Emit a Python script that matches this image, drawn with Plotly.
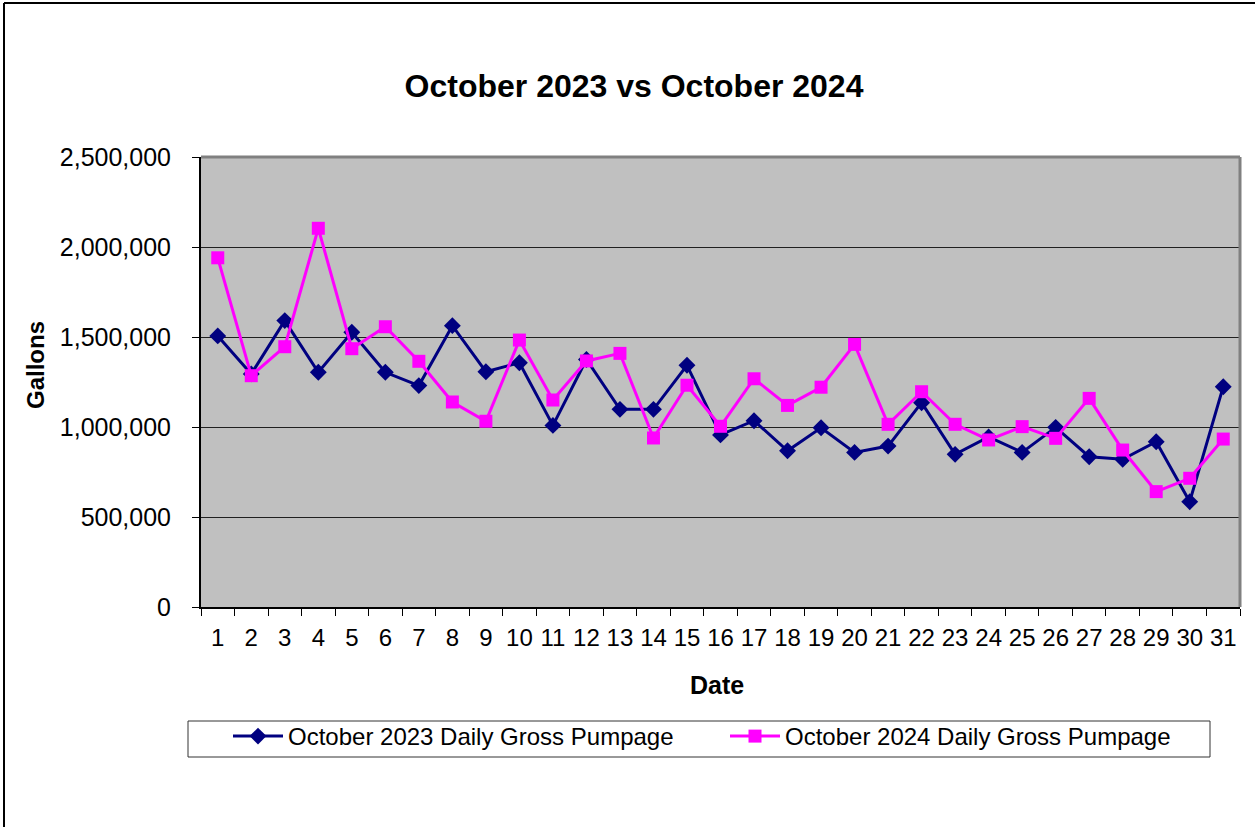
import plotly.graph_objects as go

dates = [str(d) for d in range(1, 32)]
oct_2023 = [1506000, 1295000, 1591000, 1304000, 1526000, 1304000, 1230000, 1563000, 1307000, 1357000,
            1009000, 1375000, 1098000, 1098000, 1343000, 956000, 1035000, 868000, 996000, 859000,
            894000, 1135000, 848000, 945000, 859000, 998000, 835000, 821000, 918000, 585000, 1224000]
oct_2024 = [1940000, 1285000, 1446000, 2104000, 1435000, 1557000, 1365000, 1139000, 1032000, 1483000,
            1150000, 1367000, 1409000, 939000, 1232000, 1004000, 1268000, 1120000, 1221000, 1459000,
            1015000, 1196000, 1015000, 928000, 1002000, 937000, 1159000, 872000, 641000, 715000, 933000]
series_names = ["October 2023 Daily Gross Pumpage", "October 2024 Daily Gross Pumpage"]
title_text = "October 2023 vs October 2024"

W, H = 1255, 827
L, R, T, B = 201, 15, 157, 220
pw, ph = W - L - R, H - T - B

def px(x):
    return (x - L) / pw

def py(y):
    return (H - B - y) / ph

FONT = "Liberation Sans, Arial, sans-serif"

fig = go.Figure()
fig.add_trace(go.Scatter(x=dates, y=oct_2023, name=series_names[0], mode="lines+markers",
                         line=dict(color="#000080", width=3),
                         marker=dict(symbol="diamond", size=13, color="#000080")))
fig.add_trace(go.Scatter(x=dates, y=oct_2024, name=series_names[1], mode="lines+markers",
                         line=dict(color="#FF00FF", width=3),
                         marker=dict(symbol="square", size=13, color="#FF00FF")))

fig.update_layout(
    width=W, height=H,
    margin=dict(l=L, r=R, t=T, b=B, pad=0),
    paper_bgcolor="white", plot_bgcolor="#C0C0C0",
    font=dict(family=FONT, color="black", size=24),
    title=dict(text="<b>" + title_text + "</b>", x=634 / W, xref="container", xanchor="center",
               y=1 - 86 / H, yref="container", yanchor="middle",
               font=dict(size=32, family=FONT, color="black")),
    showlegend=True,
    legend=dict(orientation="h", x=px(228), xanchor="left", y=py(714), yanchor="top",
                borderwidth=0, bgcolor="rgba(0,0,0,0)",
                font=dict(size=24, family=FONT), entrywidth=432, entrywidthmode="pixels",
                itemwidth=50, tracegroupgap=0),
    xaxis=dict(type="category", range=[-0.5, 30.5], tickson="boundaries", ticks="outside",
               ticklen=7, tickwidth=1, tickangle=0,
               tickcolor="black", showline=True, linecolor="black", linewidth=2,
               showgrid=False, tickfont=dict(size=24), ticklabelstandoff=8, fixedrange=True),
    yaxis=dict(range=[0, 2500000], dtick=500000, tickformat=",", ticks="outside", ticklen=7,
               tickwidth=1, tickcolor="black", showline=True, linecolor="black", linewidth=2,
               showgrid=True, gridcolor="#202020", gridwidth=1, zeroline=False,
               tickfont=dict(size=25), ticklabelstandoff=16, fixedrange=True),
)

fig.add_annotation(text="<b>Date</b>", x=px(717), y=py(685), xref="paper", yref="paper",
                   showarrow=False, font=dict(size=25, family=FONT), xanchor="center", yanchor="middle")
fig.add_annotation(text="<b>Gallons</b>", x=px(35), y=py(365), xref="paper", yref="paper",
                   showarrow=False, textangle=-90, font=dict(size=24, family=FONT),
                   xanchor="center", yanchor="middle")

# legend box
fig.add_shape(type="rect", xref="paper", yref="paper", x0=px(188), x1=px(1210), y0=py(721), y1=py(757),
              line=dict(color="#333333", width=1))
# plot-area top/right border (gray)
fig.add_shape(type="line", xref="paper", yref="paper", x0=0, x1=1, y0=1, y1=1,
              line=dict(color="#808080", width=3))
fig.add_shape(type="line", xref="paper", yref="paper", x0=1, x1=1, y0=0, y1=1,
              line=dict(color="#808080", width=3))
# outer chart frame (top and left visible)
fig.add_shape(type="line", xref="paper", yref="paper", x0=px(4), x1=px(W + 10), y0=py(3), y1=py(3),
              line=dict(color="black", width=2))
fig.add_shape(type="line", xref="paper", yref="paper", x0=px(4), x1=px(4), y0=py(3), y1=py(H + 10),
              line=dict(color="black", width=2))

fig.write_html("out.html", config={"displayModeBar": False},
               post_script="document.body.style.margin='0';document.body.style.overflow='hidden';")
